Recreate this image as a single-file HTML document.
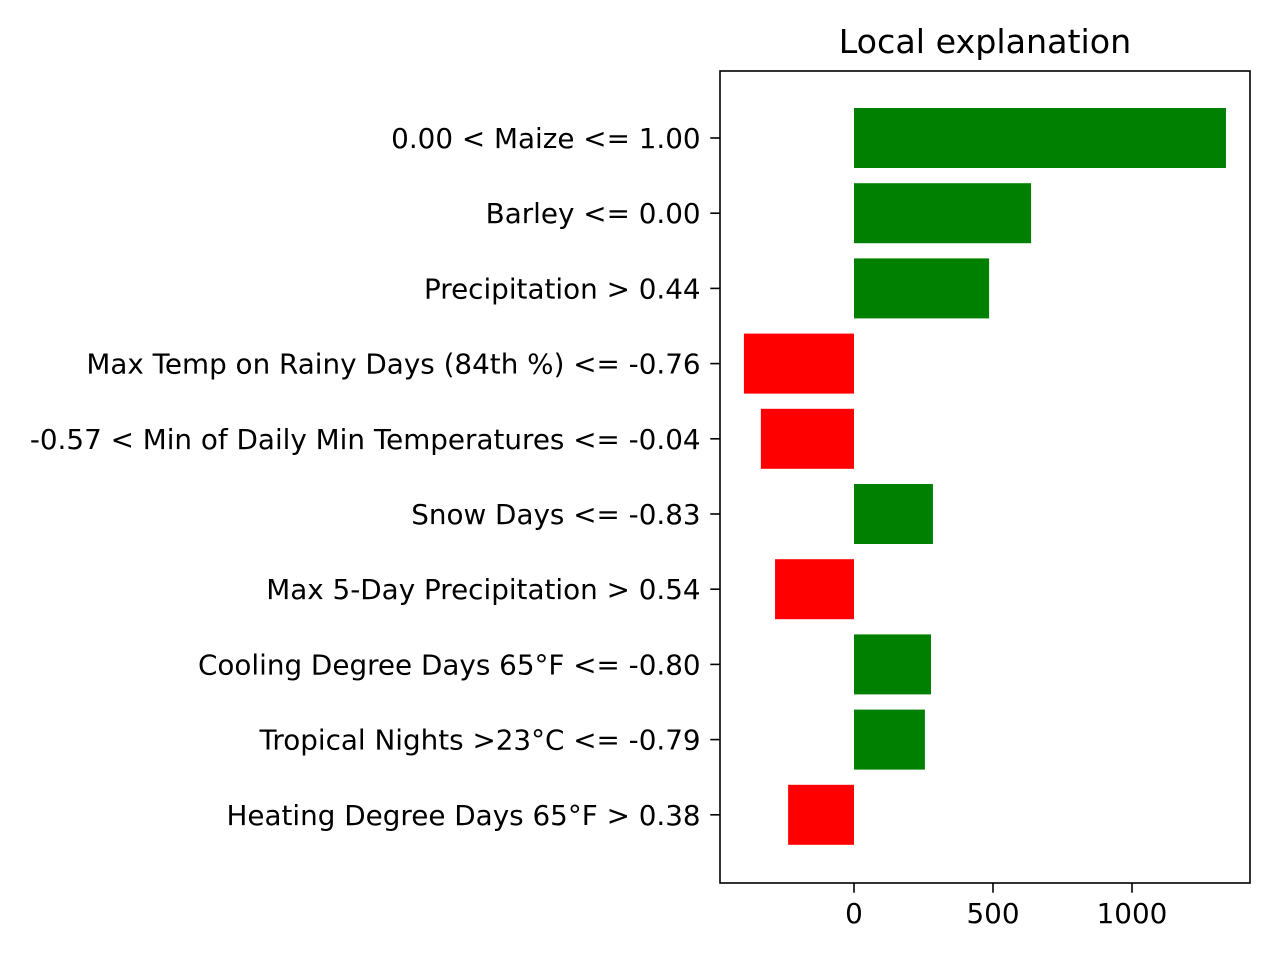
<!DOCTYPE html>
<html><head><meta charset="utf-8"><style>body{margin:0;background:#fff}svg{display:block}text{font-family:"DejaVu Sans","Liberation Sans",sans-serif;fill:#000}</style></head>
<body>
<svg id="chart" width="1280" height="960">
<text x="985" y="53" font-size="33.3" text-anchor="middle">Local explanation</text>
<g id="bars"></g>
<rect x="720" y="71" width="530" height="812" fill="none" stroke="#000" stroke-width="1.6"/>
<g id="axes"></g>
</svg>
<script>
const categories = ["0.00 < Maize <= 1.00","Barley <= 0.00","Precipitation > 0.44","Max Temp on Rainy Days (84th %) <= -0.76","-0.57 < Min of Daily Min Temperatures <= -0.04","Snow Days <= -0.83","Max 5-Day Precipitation > 0.54","Cooling Degree Days 65°F <= -0.80","Tropical Nights >23°C <= -0.79","Heating Degree Days 65°F > 0.38"];
const values = [1338,637,486,-396,-335,284,-284,277,255,-237];
const xTicks = [0,500,1000];
const NS="http://www.w3.org/2000/svg";
const x = v => 854 + v*0.278;
const yc = i => 138 + i*75.2;
const bh = 60;
const bars=document.getElementById('bars'), axes=document.getElementById('axes');
function mk(tag,attrs,parent){const e=document.createElementNS(NS,tag);for(const k in attrs)e.setAttribute(k,attrs[k]);parent.appendChild(e);return e;}
values.forEach((v,i)=>{
  const r=mk('rect',{x:Math.min(x(0),x(v)),y:yc(i)-bh/2,width:Math.abs(x(v)-x(0)),height:bh,fill:v>=0?'#008000':'#ff0000'},bars);
  
  
  const t=mk('line',{x1:720,x2:710.3,y1:yc(i),y2:yc(i),stroke:'#000','stroke-width':1.6},axes);
  
  
  const l=mk('text',{x:700.6,y:yc(i)+10,'font-size':27.8,'text-anchor':'end'},axes);
  l.textContent=categories[i];
  
  
});
xTicks.forEach(v=>{
  const t=mk('line',{x1:x(v),x2:x(v),y1:883,y2:892.7,stroke:'#000','stroke-width':1.6},axes);
  
  
  const l=mk('text',{x:x(v),y:923,'font-size':27.8,'text-anchor':'middle'},axes);
  l.textContent=v;
  
  
});
</script>
</body></html>
